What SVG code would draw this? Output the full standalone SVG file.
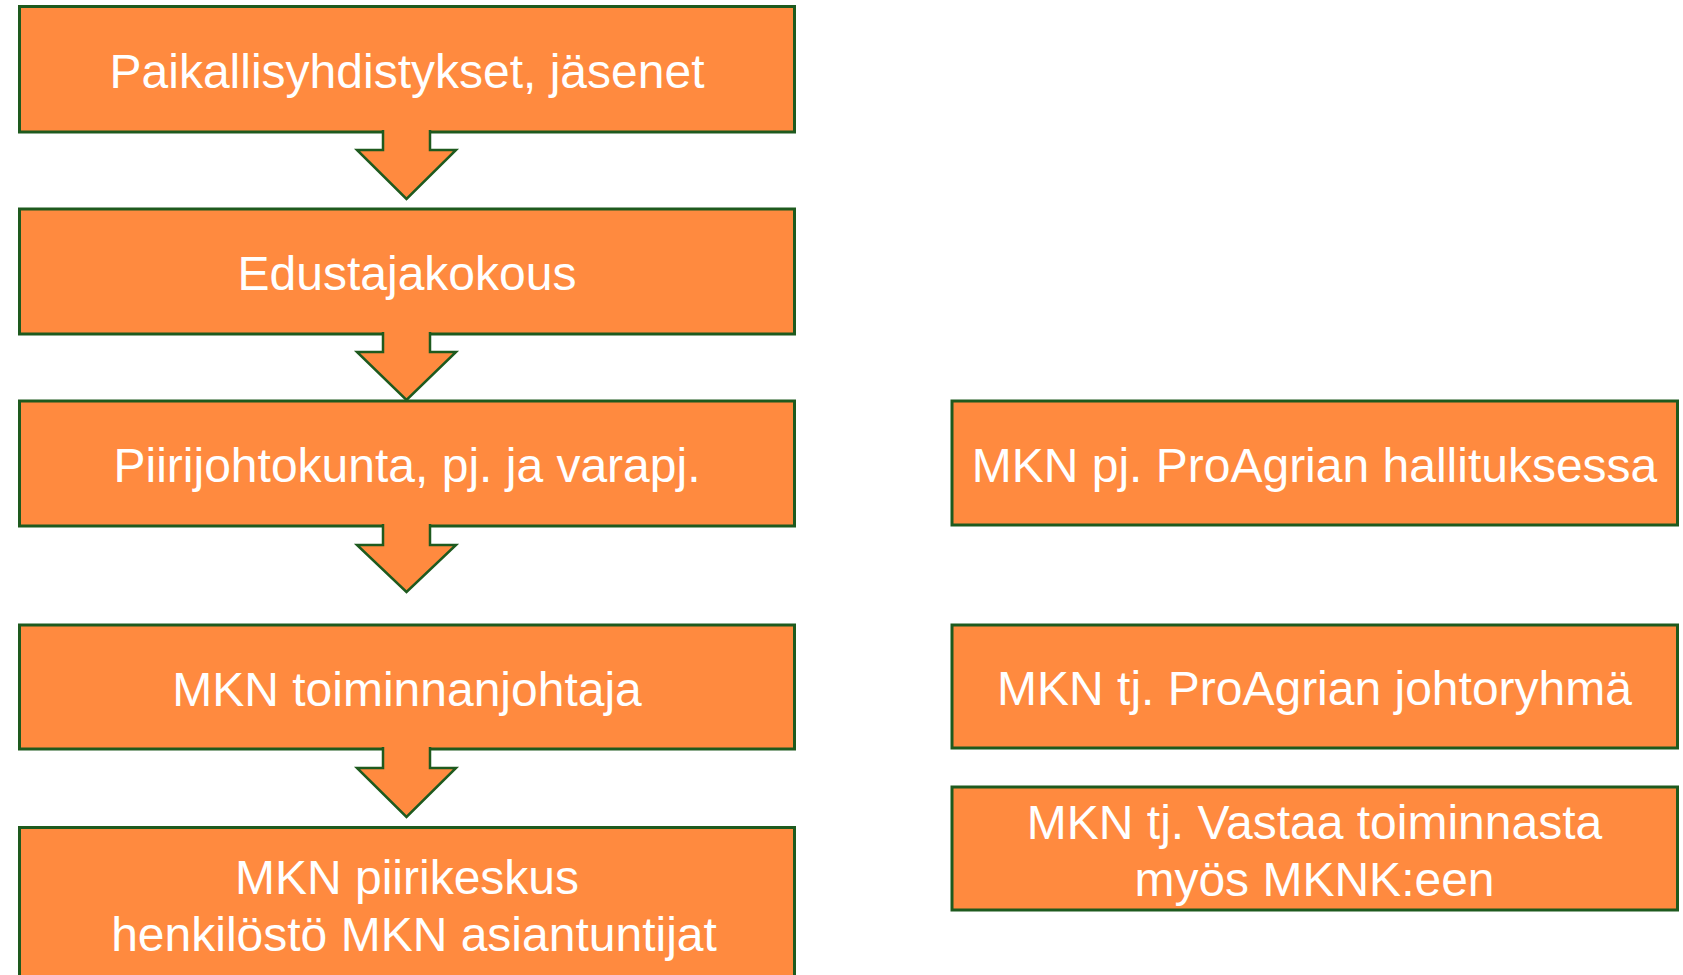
<svg xmlns="http://www.w3.org/2000/svg" width="1683" height="975" viewBox="0 0 1683 975">
<style>
.box{fill:#FF8A3F;stroke:#1E5A1E;stroke-width:3}
.arr{fill:#FF8A3F;stroke:#1E5A1E;stroke-width:2.5;stroke-linejoin:miter}
.t{font-family:"Liberation Sans",Arial,sans-serif;font-size:48px;fill:#FFFFFF;text-anchor:middle}
</style>
<rect width="1683" height="975" fill="#FFFFFF"/>
<g id="n1"><rect class="box" x="19.5" y="6.5" width="775" height="125.5"/><text class="t" x="407" y="88">Paikallisyhdistykset, jäsenet</text></g>
<g id="n2"><rect class="box" x="19.5" y="209" width="775" height="125"/><text class="t" x="407" y="290">Edustajakokous</text></g>
<g id="n3"><rect class="box" x="19.5" y="401" width="775" height="125"/><text class="t" x="407" y="482">Piirijohtokunta, pj. ja varapj.</text></g>
<g id="n4"><rect class="box" x="19.5" y="625" width="775" height="124"/><text class="t" x="407" y="706">MKN toiminnanjohtaja</text></g>
<g id="n5"><rect class="box" x="19.5" y="827.5" width="775" height="200"/><text class="t" x="407" y="894">MKN piirikeskus</text><text class="t" x="414" y="951">henkilöstö MKN asiantuntijat</text></g>
<g id="n6"><rect class="box" x="952" y="401" width="725.5" height="124"/><text class="t" x="1314.5" y="482">MKN pj. ProAgrian hallituksessa</text></g>
<g id="n7"><rect class="box" x="952" y="625" width="725.5" height="123"/><text class="t" x="1314.5" y="705">MKN tj. ProAgrian johtoryhmä</text></g>
<g id="n8"><rect class="box" x="952" y="787" width="725.5" height="123"/><text class="t" x="1314.5" y="839">MKN tj. Vastaa toiminnasta</text><text class="t" x="1314.5" y="896">myös MKNK:een</text></g>
<g id="connectors">
<path class="arr" d="M383,130 L383,150 L357,150 L406.5,199 L456,150 L430,150 L430,130"/>
<path class="arr" d="M383,332 L383,352 L357,352 L406.5,400 L456,352 L430,352 L430,332"/>
<path class="arr" d="M383,524 L383,545 L357,545 L406.5,592 L456,545 L430,545 L430,524"/>
<path class="arr" d="M383,747 L383,768 L357,768 L406.5,817 L456,768 L430,768 L430,747"/>
</g>
</svg>
